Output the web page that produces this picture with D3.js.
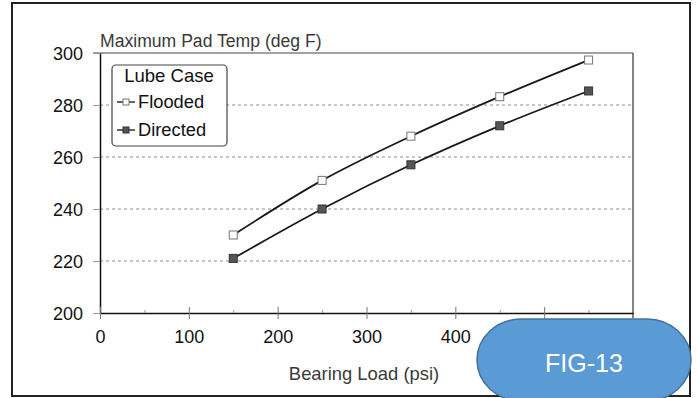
<!DOCTYPE html>
<html>
<head>
<meta charset="utf-8">
<script src="https://cdn.jsdelivr.net/npm/d3@7"></script>
<style>
  body { margin: 0; background: #fff; }
  text { font-family: "Liberation Sans", Arial, sans-serif; }
</style>
</head>
<body>
<script>
// data
const loads = [150, 250, 350, 450, 550];          // Bearing Load (psi)
const flooded = [230, 251, 268, 283.2, 297.3];    // deg F
const directed = [221, 240, 257, 272, 285.4];     // deg F
const seriesNames = ["Flooded", "Directed"];
const xTicks = [0, 100, 200, 300, 400, 500];
const xMinorTicks = [50, 150, 250, 350, 450, 550];
const yTicks = [200, 220, 240, 260, 280, 300];
const gridValues = [220, 240, 260, 280];

const W = 697, H = 398;
const plot = { left: 100, right: 633, top: 53, bottom: 313 };

const svg = d3.select("body").append("svg")
  .attr("width", W)
  .attr("height", H);

const x = d3.scaleLinear().domain([0, 600]).range([plot.left, plot.right]);
const y = d3.scaleLinear().domain([200, 300]).range([plot.bottom, plot.top]);

// outer frame
svg.append("rect")
  .attr("x", 12).attr("y", 3)
  .attr("width", 678).attr("height", 393)
  .attr("fill", "none")
  .attr("stroke", "#222")
  .attr("stroke-width", 2);

// dashed grid lines
svg.append("g")
  .selectAll("line")
  .data(gridValues)
  .enter()
    .append("line")
    .attr("x1", plot.left).attr("x2", plot.right)
    .attr("y1", d => y(d)).attr("y2", d => y(d))
    .attr("stroke", "#8c8c8c")
    .attr("stroke-dasharray", "3,3");

// top and right borders
svg.append("line")
  .attr("x1", plot.left - 7).attr("x2", plot.right)
  .attr("y1", plot.top).attr("y2", plot.top)
  .attr("stroke", "#444").attr("stroke-width", 1.2);
svg.append("line")
  .attr("x1", plot.right).attr("x2", plot.right)
  .attr("y1", plot.top).attr("y2", plot.bottom + 5)
  .attr("stroke", "#333").attr("stroke-width", 1.2);

// y axis
const yAxis = svg.append("g")
  .attr("transform", `translate(${plot.left},0)`)
  .call(d3.axisLeft(y).tickValues(yTicks).tickSize(7).tickSizeOuter(0).tickPadding(10));
yAxis.select(".domain").attr("stroke", "#111").attr("stroke-width", 1.5);
yAxis.selectAll(".tick line").attr("stroke", "#999");
yAxis.selectAll(".tick text")
  .attr("font-size", 18)
  .attr("fill", "#111")
  .attr("dy", "0.36em");

// x axis
const xAxis = svg.append("g")
  .attr("transform", `translate(0,${plot.bottom})`)
  .call(d3.axisBottom(x).tickValues(xTicks).tickSize(6).tickSizeOuter(0).tickPadding(11));
xAxis.select(".domain").attr("stroke", "#111").attr("stroke-width", 1.5);
xAxis.selectAll(".tick line").attr("y1", -6).attr("stroke", "#777");
xAxis.selectAll(".tick text")
  .attr("font-size", 18)
  .attr("fill", "#111");

// minor x ticks
svg.append("g")
  .attr("transform", `translate(0,${plot.bottom})`)
  .call(d3.axisBottom(x).tickValues(xMinorTicks).tickSize(-3).tickFormat(""))
  .call(g => g.select(".domain").remove())
  .selectAll(".tick line").attr("stroke", "#999");

// lines
const line = d3.line()
  .x(d => x(d[0]))
  .y(d => y(d[1]))
  .curve(d3.curveMonotoneX);

const series = [
  { name: seriesNames[0], values: d3.zip(loads, flooded), fill: "#fff", stroke: "#777" },
  { name: seriesNames[1], values: d3.zip(loads, directed), fill: "#555", stroke: "#333" }
];

svg.selectAll("path.series")
  .data(series)
  .enter()
    .append("path")
    .attr("class", "series")
    .attr("d", d => line(d.values))
    .attr("fill", "none")
    .attr("stroke", "#1a1a1a")
    .attr("stroke-width", 1.8);

series.forEach(s => {
  svg.append("g")
    .selectAll("rect")
    .data(s.values)
    .enter()
      .append("rect")
      .attr("x", d => x(d[0]) - 4)
      .attr("y", d => y(d[1]) - 4)
      .attr("width", 8).attr("height", 8)
      .attr("fill", s.fill)
      .attr("stroke", s.stroke)
      .attr("stroke-width", 1);
});

// title and axis label
svg.append("text")
  .attr("x", 100).attr("y", 47)
  .attr("font-size", 17.6)
  .attr("fill", "#3a3a3a")
  .text("Maximum Pad Temp (deg F)");

svg.append("text")
  .attr("x", 364).attr("y", 380)
  .attr("text-anchor", "middle")
  .attr("font-size", 18.4)
  .attr("fill", "#3a3a3a")
  .text("Bearing Load (psi)");

// legend
const legend = svg.append("g");
legend.append("rect")
  .attr("x", 112).attr("y", 65)
  .attr("width", 115).attr("height", 81)
  .attr("rx", 4)
  .attr("fill", "#fff")
  .attr("stroke", "#444")
  .attr("stroke-width", 1.2);
legend.append("text")
  .attr("x", 169).attr("y", 82)
  .attr("text-anchor", "middle")
  .attr("font-size", 18.5)
  .attr("fill", "#111")
  .text("Lube Case");

const items = legend.selectAll("g.item")
  .data(series)
  .enter()
    .append("g")
    .attr("class", "item")
    .attr("transform", (d, i) => `translate(0,${102 + i * 28})`);
items.append("line")
  .attr("x1", 117).attr("x2", 135)
  .attr("stroke", "#222").attr("stroke-width", 1.4);
items.append("rect")
  .attr("x", 123).attr("y", -3)
  .attr("width", 6).attr("height", 6)
  .attr("fill", d => d.fill)
  .attr("stroke", d => d.stroke);
items.append("text")
  .attr("x", 138).attr("y", 6)
  .attr("font-size", 18.3)
  .attr("fill", "#111")
  .text(d => d.name);

// FIG-13 badge
svg.append("rect")
  .attr("x", 477).attr("y", 319)
  .attr("width", 214).attr("height", 82)
  .attr("rx", 44).attr("ry", 41)
  .attr("fill", "#5B9BD5")
  .attr("stroke", "#41719C")
  .attr("stroke-width", 1.5);
svg.append("text")
  .attr("x", 584).attr("y", 372)
  .attr("text-anchor", "middle")
  .attr("font-family", "'Open Sans', sans-serif")
  .attr("font-size", 25)
  .attr("fill", "#fff")
  .text("FIG-13");
</script>
</body>
</html>
